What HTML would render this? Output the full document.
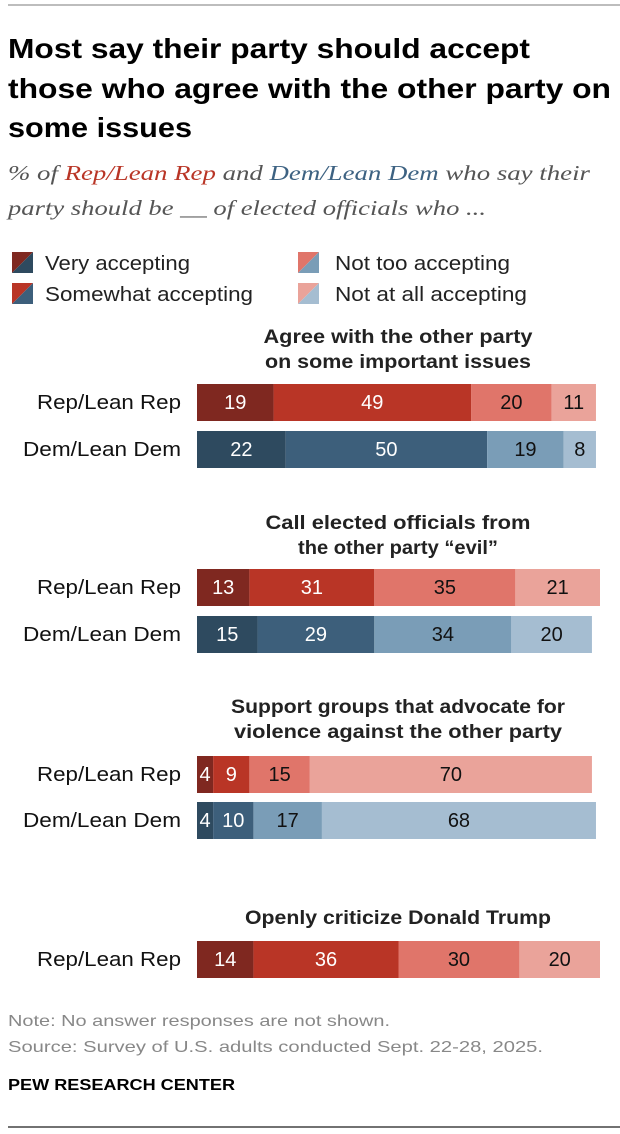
<!DOCTYPE html>
<html><head><meta charset="utf-8"><style>
html,body{margin:0;padding:0;background:#fff;}
svg{display:block;font-family:"Liberation Sans Narrow","Liberation Sans",sans-serif;}
</style></head><body>
<svg id="chart" width="620" height="1134" viewBox="0 0 620 1134" xmlns="http://www.w3.org/2000/svg">
<line x1="8" y1="5" x2="620" y2="5" stroke="#bdbdbd" stroke-width="2"/>
<g font-weight="bold" font-size="28" fill="#000">
<text x="8" y="58" textLength="522" lengthAdjust="spacingAndGlyphs">Most say their party should accept</text>
<text x="8" y="98" textLength="603" lengthAdjust="spacingAndGlyphs">those who agree with the other party on</text>
<text x="8" y="137" textLength="184" lengthAdjust="spacingAndGlyphs">some issues</text>
</g>
<g font-family="'Liberation Serif',serif" font-style="italic" font-size="21" fill="#555">
<text x="8" y="180" textLength="582" lengthAdjust="spacingAndGlyphs">% of <tspan fill="#b93526">Rep/Lean Rep</tspan> and <tspan fill="#3d6282">Dem/Lean Dem</tspan> who say their</text>
<text x="8" y="215" textLength="478" lengthAdjust="spacingAndGlyphs">party should be __ of elected officials who ...</text>
</g>
<g id="legend" font-size="20" fill="#222"></g>
<g id="bars"></g>
<g font-size="16" fill="#888">
<text x="8" y="1026" textLength="382" lengthAdjust="spacingAndGlyphs">Note: No answer responses are not shown.</text>
<text x="8" y="1052" textLength="535" lengthAdjust="spacingAndGlyphs">Source: Survey of U.S. adults conducted Sept. 22-28, 2025.</text>
<text x="8" y="1090" textLength="227" lengthAdjust="spacingAndGlyphs" font-weight="bold" fill="#000">PEW RESEARCH CENTER</text>
</g>
<line x1="8" y1="1127" x2="620" y2="1127" stroke="#444" stroke-width="1.5"/>
</svg>
<script>
const questions = ["Agree with the other party|on some important issues","Call elected officials from|the other party \u201cevil\u201d","Support groups that advocate for|violence against the other party","Openly criticize Donald Trump"];
const categories = ["Very accepting","Somewhat accepting","Not too accepting","Not at all accepting"];
const repValues = [[19,49,20,11],[13,31,35,21],[4,9,15,70],[14,36,30,20]];
const demValues = [[22,50,19,8],[15,29,34,20],[4,10,17,68],null];
const groupLabels = ["Rep/Lean Rep","Dem/Lean Dem"];

const NS="http://www.w3.org/2000/svg";
const repColors=["#7f2820","#b93526","#e0756a","#eaa39a"];
const demColors=["#2e4a5f","#3d5f7b","#7a9db7","#a5bdd1"];
const darkText=[true,true,false,false];
const x0=197, unit=4.03;
const xs=v=>v*unit;
function mk(tag,attrs,parent){const e=document.createElementNS(NS,tag);for(const k in attrs)e.setAttribute(k,attrs[k]);parent.appendChild(e);return e;}

// legend
const lg=document.getElementById('legend');
const legPos=[[12,252],[12,283],[298,252],[298,283]];
const legW=[145,208,175,192];
categories.forEach((c,i)=>{
  const [lx,ly]=legPos[i];
  const g=mk('g',{},lg);
  
  
  mk('polygon',{points:`${lx},${ly} ${lx+21},${ly} ${lx},${ly+21}`,fill:repColors[i]},g);
  mk('polygon',{points:`${lx+21},${ly} ${lx+21},${ly+21} ${lx},${ly+21}`,fill:demColors[i]},g);
  const t=mk('text',{x:lx+33+(i>=2?4:0),y:ly+18,textLength:legW[i],lengthAdjust:'spacingAndGlyphs'},g);
  t.textContent=c;
});

// bars
const bg=document.getElementById('bars');
const groupTop=[[336,361,384,431],[522,547,569,616],[706,731,756,802],[917,null,941,null]];
const titleW=[[269,266],[265,200],[334,328],[306]];
questions.forEach((q,qi)=>{
  const g=mk('g',{},bg);
  
  
  const lines=q.split('|');
  lines.forEach((ln,li)=>{
    const t=mk('text',{x:398,y:groupTop[qi][li]+7,'text-anchor':'middle','font-size':19,'font-weight':'bold',fill:'#222',textLength:titleW[qi][li],lengthAdjust:'spacingAndGlyphs'},g);
    
    
    t.textContent=ln;
  });
  [repValues[qi],demValues[qi]].forEach((vals,ri)=>{
    if(!vals)return;
    const y=groupTop[qi][2+ri];
    const cols=ri===0?repColors:demColors;
    const lbl=mk('text',{x:181,y:y+25,'text-anchor':'end','font-size':20,fill:'#111',textLength:ri===0?144:158,lengthAdjust:'spacingAndGlyphs'},g);
    
    
    lbl.textContent=groupLabels[ri];
    let cx=x0;
    vals.forEach((v,i)=>{
      const w=xs(v);
      const r=mk('rect',{x:cx,y:y,width:w,height:37,fill:cols[i]},g);
      
      
      const t=mk('text',{x:cx+w/2,y:y+25,'text-anchor':'middle','font-size':20,fill:darkText[i]?'#fff':'#111'},g);
      
      
      t.textContent=v;
      cx+=w;
    });
  });
});
</script>
</body></html>
